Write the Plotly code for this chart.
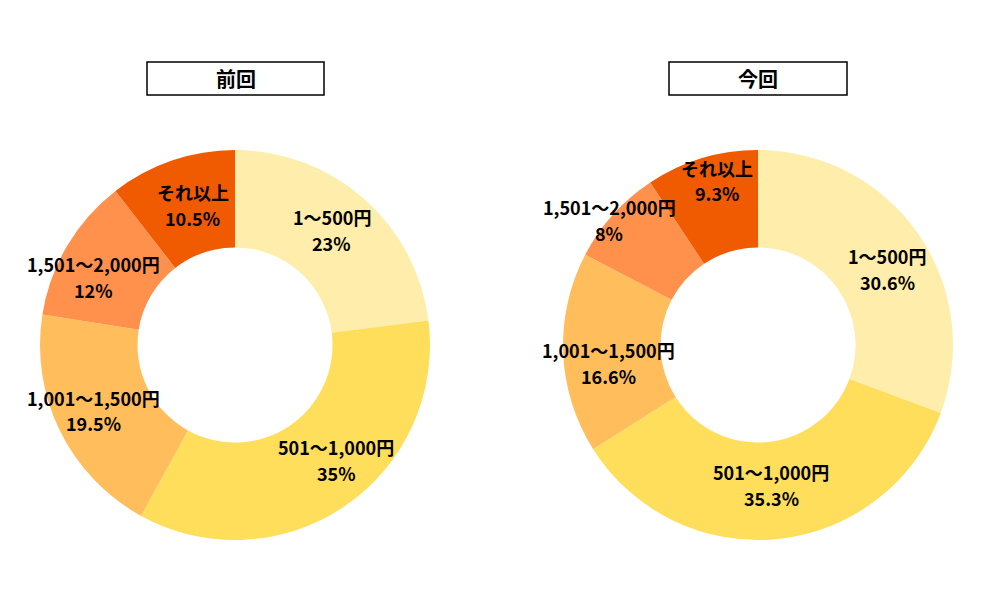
import math
import plotly.graph_objects as go

categories = ["1～500円", "501～1,000円", "1,001～1,500円", "1,501～2,000円", "それ以上"]
prev_values = [23, 35, 19.5, 12, 10.5]
curr_values = [30.6, 35.3, 16.6, 8, 9.3]
titles = ["前回", "今回"]
colors = ["#FFEDAB", "#FFDE5C", "#FFBD5C", "#FF914D", "#F05A00"]

# label placement: distance from centre (fraction of outer radius) and angle nudge (deg)
label_radius = [
    [0.77, 0.785, 0.80, 0.806, 0.75],
    [0.77, 0.72, 0.77, 0.997, 0.87],
]
label_nudge = [
    [-1.3, -7.1, 1.3, -5.0, 2.2],
    [4.4, 0.5, -4.6, -2.0, 2.7],
]

W, H = 1000, 600
OFF = 8  # page body margin
FONT = "Noto Sans CJK JP"
LINE_GAP = 25.5

centers = [(235, 345), (758, 345)]
R = 195
box_x = [(147, 324), (669, 847)]


def px(x):
    return (x - OFF) / W


def py(y):
    return 1 - (y - OFF) / H


fig = go.Figure()
for ci, (vals, (cx, cy)) in enumerate(zip([prev_values, curr_values], centers)):
    fig.add_trace(go.Pie(
        labels=categories, values=vals, hole=0.5, sort=False, direction="clockwise",
        rotation=0, marker=dict(colors=colors, line=dict(width=0)),
        textinfo="none",
        domain=dict(x=[px(cx - R), px(cx + R)], y=[py(cy + R), py(cy - R)]),
        showlegend=False, hoverinfo="label+value",
    ))
    total = sum(vals)
    cum = 0.0
    for i, (lab, v) in enumerate(zip(categories, vals)):
        mid = (cum + v / 2) / total * 2 * math.pi + math.radians(label_nudge[ci][i])
        cum += v
        r = label_radius[ci][i] * R
        x = cx + r * math.sin(mid)
        y = cy - r * math.cos(mid)
        for line, dy in ((lab, -LINE_GAP / 2), ("%s%%" % v, LINE_GAP / 2)):
            fig.add_annotation(xref="paper", yref="paper", x=px(x), y=py(y + dy),
                               xanchor="center", yanchor="middle",
                               text="<b>%s</b>" % line, showarrow=False,
                               font=dict(family=FONT, size=18, color="#000000"))

for t, (x0, x1) in zip(titles, box_x):
    fig.add_shape(type="rect", xref="paper", yref="paper",
                  x0=px(x0), x1=px(x1), y0=py(95), y1=py(62),
                  line=dict(color="#000000", width=1.5), fillcolor="white")
    fig.add_annotation(xref="paper", yref="paper", x=px((x0 + x1) / 2), y=py(78.5),
                       xanchor="center", yanchor="middle",
                       text="<b>" + t + "</b>", showarrow=False,
                       font=dict(family=FONT, size=20, color="#000000"))

fig.update_layout(width=W, height=H, margin=dict(l=0, r=0, t=0, b=0),
                  paper_bgcolor="white", plot_bgcolor="white",
                  font=dict(family=FONT))
fig.write_html("out.html")
